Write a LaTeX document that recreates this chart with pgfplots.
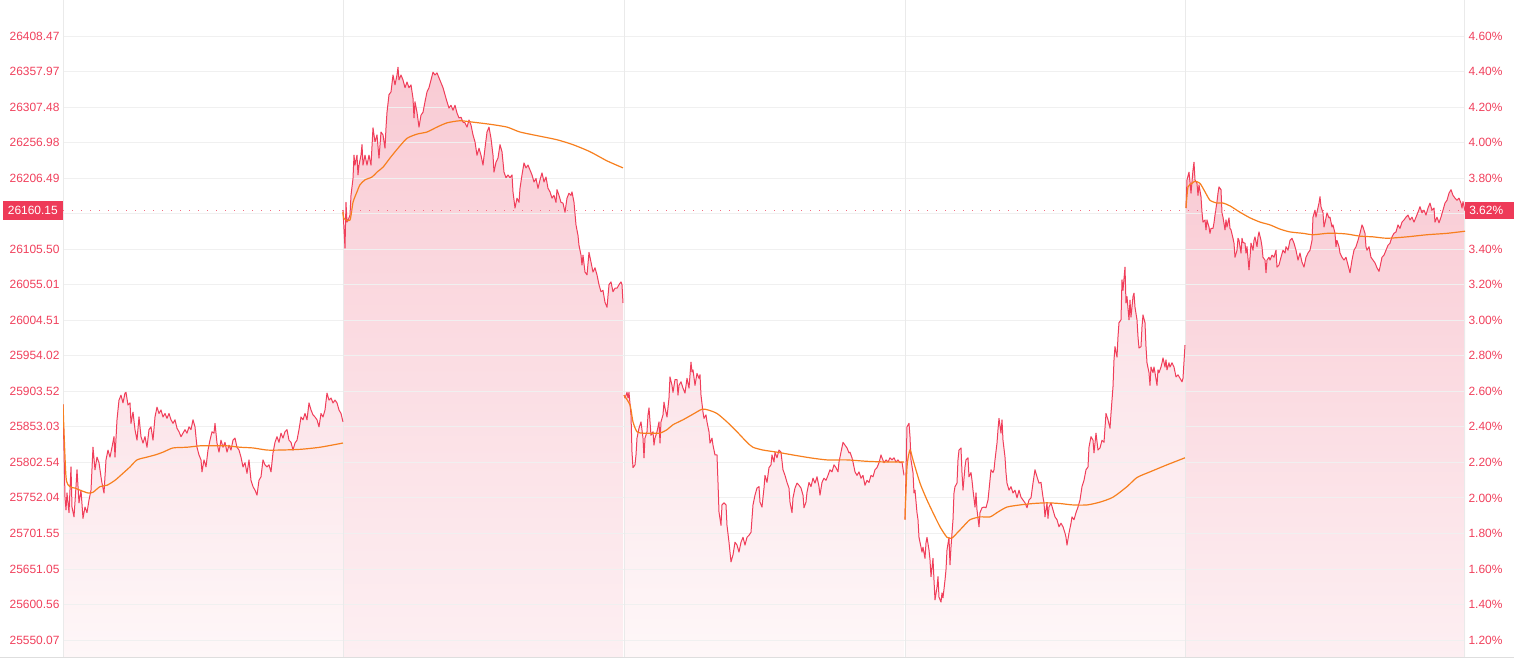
\documentclass[border=0pt]{standalone}
\usepackage{fontspec}
\setmainfont{Liberation Sans}
\usepackage{pgfplots}
\usepackage{pgfplotstable}
\pgfplotsset{compat=1.18}
\definecolor{lred}{RGB}{240,62,90}
\definecolor{lbl}{RGB}{240,64,92}
\definecolor{ma}{RGB}{247,127,30}
\definecolor{gridc}{RGB}{240,240,240}
\definecolor{vgrid}{RGB}{234,234,234}
\definecolor{boxred}{RGB}{238,58,88}
\definecolor{dotc}{RGB}{242,110,130}
\definecolor{botline}{RGB}{222,222,222}
\definecolor{sAtop}{HTML}{FCE4E9}\definecolor{sAbot}{HTML}{FEF7F8}
\definecolor{sBtop}{HTML}{F9CBD4}\definecolor{sBbot}{HTML}{FDEFF2}
\definecolor{sDtop}{HTML}{FBE0E6}

\pgfplotstableread[row sep=\\]{
x y\\
63 25885\\ 65 25753\\ 66 25735\\ 67 25759\\ 69 25731\\ 71 25796\\ 72 25739\\ 74 25725\\ 76 25768\\ 77 25792\\ 79 25745\\ 81 25763\\ 83 25723\\ 85 25739\\ 87 25731\\ 89 25749\\ 91 25763\\ 93 25824\\ 95 25792\\ 97 25810\\ 99 25802\\ 101 25782\\ 102 25773\\ 104 25759\\ 106 25806\\ 108 25820\\ 110 25810\\ 112 25824\\ 114 25839\\ 115 25810\\ 117 25863\\ 119 25891\\ 121 25898\\ 123 25887\\ 125 25901\\ 126 25902\\ 128 25884\\ 130 25887\\ 131 25858\\ 133 25874\\ 135 25849\\ 137 25834\\ 139 25867\\ 141 25839\\ 143 25830\\ 145 25839\\ 147 25824\\ 149 25849\\ 151 25853\\ 153 25834\\ 155 25867\\ 157 25881\\ 159 25872\\ 161 25877\\ 163 25867\\ 165 25872\\ 167 25865\\ 169 25872\\ 171 25863\\ 173 25858\\ 175 25863\\ 177 25851\\ 179 25846\\ 181 25839\\ 183 25844\\ 185 25849\\ 187 25844\\ 189 25853\\ 191 25849\\ 193 25863\\ 195 25853\\ 197 25824\\ 199 25813\\ 201 25806\\ 202 25789\\ 204 25806\\ 206 25796\\ 208 25820\\ 210 25834\\ 212 25846\\ 214 25844\\ 215 25858\\ 217 25830\\ 219 25817\\ 221 25834\\ 223 25824\\ 225 25831\\ 227 25817\\ 229 25827\\ 231 25820\\ 233 25834\\ 235 25837\\ 237 25824\\ 239 25820\\ 241 25810\\ 243 25796\\ 245 25802\\ 247 25787\\ 249 25806\\ 251 25777\\ 253 25768\\ 255 25763\\ 257 25756\\ 259 25777\\ 261 25782\\ 263 25806\\ 265 25799\\ 267 25796\\ 269 25799\\ 271 25789\\ 273 25816\\ 275 25831\\ 277 25839\\ 279 25831\\ 281 25844\\ 283 25837\\ 285 25846\\ 287 25849\\ 289 25834\\ 291 25831\\ 293 25820\\ 295 25830\\ 297 25834\\ 299 25849\\ 301 25867\\ 303 25863\\ 305 25872\\ 307 25863\\ 309 25887\\ 311 25877\\ 313 25870\\ 315 25867\\ 317 25863\\ 319 25853\\ 321 25872\\ 323 25867\\ 325 25877\\ 327 25901\\ 329 25891\\ 331 25894\\ 333 25887\\ 335 25891\\ 337 25887\\ 339 25877\\ 341 25872\\ 343 25860\\
}\sone

\pgfplotstableread[row sep=\\]{
x y\\
343 26161\\ 345 26107\\ 346 26172\\ 347 26144\\ 349 26150\\ 350 26154\\ 351 26182\\ 353 26206\\ 354 26239\\ 355 26225\\ 357 26239\\ 358 26211\\ 359 26225\\ 361 26239\\ 362 26254\\ 363 26225\\ 365 26239\\ 367 26225\\ 369 26239\\ 371 26225\\ 373 26278\\ 375 26258\\ 377 26268\\ 379 26235\\ 381 26272\\ 383 26268\\ 385 26249\\ 386 26278\\ 387 26300\\ 389 26325\\ 391 26329\\ 393 26353\\ 395 26339\\ 397 26353\\ 398 26364\\ 399 26346\\ 401 26353\\ 403 26346\\ 405 26335\\ 407 26343\\ 409 26335\\ 411 26339\\ 413 26320\\ 414 26292\\ 415 26315\\ 417 26300\\ 419 26279\\ 421 26296\\ 423 26300\\ 425 26315\\ 427 26329\\ 429 26335\\ 431 26346\\ 433 26357\\ 435 26353\\ 437 26356\\ 439 26349\\ 441 26342\\ 443 26335\\ 445 26325\\ 447 26315\\ 449 26306\\ 451 26310\\ 453 26303\\ 455 26310\\ 457 26299\\ 459 26292\\ 461 26293\\ 463 26286\\ 465 26285\\ 467 26279\\ 469 26289\\ 471 26282\\ 473 26268\\ 475 26258\\ 477 26239\\ 479 26249\\ 481 26239\\ 483 26225\\ 485 26249\\ 487 26272\\ 489 26279\\ 491 26263\\ 493 26239\\ 494 26215\\ 496 26229\\ 498 26235\\ 500 26254\\ 502 26244\\ 504 26215\\ 506 26207\\ 508 26211\\ 510 26207\\ 512 26211\\ 513 26187\\ 515 26164\\ 517 26178\\ 519 26172\\ 520 26192\\ 522 26211\\ 524 26228\\ 526 26221\\ 528 26225\\ 530 26218\\ 532 26211\\ 534 26201\\ 536 26206\\ 538 26192\\ 540 26204\\ 542 26214\\ 544 26201\\ 546 26208\\ 548 26192\\ 550 26187\\ 552 26178\\ 554 26182\\ 556 26172\\ 557 26190\\ 559 26182\\ 561 26172\\ 563 26171\\ 565 26158\\ 567 26178\\ 569 26185\\ 571 26182\\ 572 26187\\ 574 26172\\ 576 26140\\ 578 26125\\ 579 26111\\ 581 26097\\ 582 26083\\ 583 26097\\ 585 26073\\ 587 26069\\ 589 26101\\ 591 26087\\ 593 26073\\ 595 26079\\ 597 26069\\ 599 26055\\ 601 26045\\ 603 26047\\ 605 26030\\ 607 26023\\ 609 26055\\ 611 26059\\ 613 26045\\ 615 26050\\ 617 26050\\ 619 26055\\ 621 26059\\ 622 26055\\ 623 26029\\
}\stwo

\pgfplotstableread[row sep=\\]{
x y\\
624 25898\\ 625 25894\\ 627 25902\\ 628 25894\\ 629 25902\\ 631 25870\\ 632 25817\\ 633 25795\\ 635 25799\\ 636 25813\\ 637 25837\\ 639 25851\\ 641 25860\\ 643 25837\\ 644 25809\\ 645 25837\\ 647 25846\\ 648 25870\\ 649 25880\\ 651 25841\\ 653 25846\\ 654 25827\\ 655 25837\\ 657 25846\\ 659 25860\\ 660 25830\\ 661 25860\\ 663 25870\\ 664 25888\\ 665 25880\\ 667 25867\\ 669 25894\\ 670 25924\\ 672 25912\\ 673 25902\\ 675 25920\\ 677 25920\\ 678 25898\\ 679 25912\\ 681 25917\\ 683 25908\\ 685 25901\\ 687 25922\\ 689 25908\\ 691 25945\\ 692 25931\\ 693 25934\\ 695 25912\\ 697 25929\\ 699 25922\\ 700 25927\\ 701 25898\\ 703 25874\\ 704 25865\\ 706 25870\\ 707 25860\\ 709 25846\\ 710 25830\\ 712 25837\\ 713 25827\\ 715 25813\\ 717 25813\\ 718 25774\\ 719 25732\\ 721 25713\\ 722 25742\\ 724 25745\\ 726 25742\\ 727 25713\\ 729 25689\\ 731 25661\\ 733 25671\\ 735 25689\\ 737 25685\\ 739 25675\\ 741 25689\\ 743 25696\\ 745 25685\\ 747 25696\\ 749 25699\\ 751 25703\\ 753 25742\\ 755 25756\\ 757 25766\\ 759 25768\\ 760 25746\\ 762 25739\\ 764 25766\\ 765 25784\\ 767 25774\\ 769 25795\\ 771 25799\\ 772 25813\\ 774 25803\\ 775 25817\\ 777 25809\\ 779 25820\\ 781 25817\\ 783 25792\\ 785 25784\\ 787 25774\\ 789 25766\\ 790 25746\\ 792 25731\\ 793 25752\\ 795 25766\\ 797 25773\\ 799 25770\\ 801 25766\\ 803 25756\\ 804 25738\\ 806 25746\\ 807 25760\\ 809 25774\\ 811 25768\\ 813 25780\\ 815 25773\\ 817 25782\\ 819 25768\\ 820 25756\\ 822 25774\\ 824 25780\\ 826 25777\\ 828 25784\\ 830 25792\\ 832 25789\\ 834 25799\\ 836 25795\\ 838 25789\\ 839 25803\\ 841 25817\\ 843 25831\\ 845 25827\\ 847 25823\\ 849 25816\\ 850 25817\\ 852 25809\\ 853 25803\\ 855 25789\\ 857 25784\\ 859 25789\\ 861 25780\\ 863 25784\\ 865 25770\\ 867 25777\\ 869 25774\\ 871 25784\\ 873 25782\\ 875 25792\\ 877 25795\\ 879 25802\\ 881 25813\\ 882 25809\\ 884 25802\\ 886 25806\\ 888 25803\\ 890 25809\\ 892 25806\\ 894 25809\\ 896 25803\\ 898 25806\\ 900 25802\\ 902 25803\\ 904 25784\\
}\sthree

\pgfplotstableread[row sep=\\]{
x y\\
905 25721\\ 906 25788\\ 907 25853\\ 909 25858\\ 910 25839\\ 911 25806\\ 913 25788\\ 914 25759\\ 915 25763\\ 917 25731\\ 918 25721\\ 919 25696\\ 921 25682\\ 922 25675\\ 923 25682\\ 925 25666\\ 926 25688\\ 927 25696\\ 929 25678\\ 930 25664\\ 931 25640\\ 933 25666\\ 934 25635\\ 935 25607\\ 937 25625\\ 938 25640\\ 939 25611\\ 941 25604\\ 942 25617\\ 943 25610\\ 945 25635\\ 946 25650\\ 947 25678\\ 949 25696\\ 950 25657\\ 951 25682\\ 953 25721\\ 954 25759\\ 955 25768\\ 957 25773\\ 958 25806\\ 959 25820\\ 961 25823\\ 962 25788\\ 963 25763\\ 965 25796\\ 966 25806\\ 968 25809\\ 969 25782\\ 971 25788\\ 972 25777\\ 973 25763\\ 975 25739\\ 976 25759\\ 977 25735\\ 979 25711\\ 980 25731\\ 982 25738\\ 984 25739\\ 986 25738\\ 988 25749\\ 989 25763\\ 991 25792\\ 993 25788\\ 994 25792\\ 995 25806\\ 997 25830\\ 998 25849\\ 999 25865\\ 1001 25844\\ 1002 25863\\ 1003 25834\\ 1005 25810\\ 1006 25788\\ 1007 25773\\ 1009 25763\\ 1011 25768\\ 1013 25759\\ 1015 25763\\ 1017 25752\\ 1019 25763\\ 1021 25753\\ 1023 25749\\ 1025 25745\\ 1027 25738\\ 1029 25749\\ 1031 25752\\ 1033 25773\\ 1035 25792\\ 1037 25782\\ 1039 25773\\ 1041 25774\\ 1043 25753\\ 1044 25745\\ 1045 25725\\ 1047 25745\\ 1048 25723\\ 1049 25739\\ 1051 25745\\ 1053 25735\\ 1055 25725\\ 1057 25721\\ 1059 25711\\ 1061 25716\\ 1063 25711\\ 1065 25702\\ 1066 25696\\ 1067 25685\\ 1069 25702\\ 1071 25716\\ 1072 25725\\ 1074 25721\\ 1076 25731\\ 1078 25739\\ 1080 25749\\ 1082 25768\\ 1084 25777\\ 1086 25792\\ 1088 25796\\ 1089 25824\\ 1091 25839\\ 1093 25834\\ 1094 25816\\ 1096 25844\\ 1098 25820\\ 1100 25823\\ 1102 25834\\ 1104 25831\\ 1106 25872\\ 1108 25863\\ 1110 25851\\ 1111 25872\\ 1113 25910\\ 1114 25948\\ 1115 25967\\ 1117 25952\\ 1118 25981\\ 1119 26001\\ 1121 26005\\ 1122 26062\\ 1123 26047\\ 1125 26080\\ 1126 26029\\ 1127 26038\\ 1129 26005\\ 1130 26033\\ 1131 26009\\ 1133 26038\\ 1134 26043\\ 1135 26023\\ 1137 26005\\ 1138 25981\\ 1139 25965\\ 1141 25967\\ 1142 25995\\ 1143 26012\\ 1145 26001\\ 1146 25967\\ 1147 25944\\ 1149 25930\\ 1150 25912\\ 1151 25938\\ 1153 25930\\ 1154 25938\\ 1155 25930\\ 1157 25912\\ 1158 25934\\ 1159 25930\\ 1161 25938\\ 1162 25944\\ 1163 25951\\ 1165 25938\\ 1166 25948\\ 1167 25934\\ 1169 25944\\ 1170 25938\\ 1172 25944\\ 1174 25938\\ 1176 25924\\ 1178 25927\\ 1180 25922\\ 1182 25917\\ 1183 25922\\ 1185 25969\\
}\sfour

\pgfplotstableread[row sep=\\]{
x y\\
1186 26164\\ 1187 26204\\ 1189 26215\\ 1190 26201\\ 1191 26185\\ 1193 26218\\ 1194 26229\\ 1195 26204\\ 1197 26199\\ 1198 26182\\ 1199 26197\\ 1201 26180\\ 1202 26158\\ 1203 26144\\ 1205 26147\\ 1206 26133\\ 1207 26147\\ 1209 26137\\ 1210 26128\\ 1211 26135\\ 1213 26135\\ 1214 26143\\ 1215 26154\\ 1217 26173\\ 1218 26185\\ 1219 26194\\ 1221 26190\\ 1222 26157\\ 1223 26151\\ 1225 26133\\ 1226 26147\\ 1227 26137\\ 1229 26150\\ 1230 26135\\ 1231 26133\\ 1233 26121\\ 1234 26114\\ 1235 26094\\ 1237 26104\\ 1238 26121\\ 1239 26118\\ 1241 26100\\ 1242 26121\\ 1243 26115\\ 1245 26114\\ 1246 26100\\ 1247 26109\\ 1249 26076\\ 1250 26094\\ 1251 26114\\ 1253 26104\\ 1254 26118\\ 1255 26123\\ 1257 26109\\ 1258 26123\\ 1259 26130\\ 1261 26118\\ 1262 26109\\ 1263 26094\\ 1265 26090\\ 1266 26072\\ 1267 26090\\ 1269 26094\\ 1270 26090\\ 1272 26097\\ 1274 26094\\ 1276 26104\\ 1277 26080\\ 1279 26083\\ 1281 26094\\ 1283 26104\\ 1285 26100\\ 1286 26109\\ 1288 26104\\ 1290 26118\\ 1292 26121\\ 1294 26114\\ 1296 26104\\ 1298 26090\\ 1300 26100\\ 1302 26087\\ 1304 26080\\ 1306 26094\\ 1308 26100\\ 1310 26104\\ 1312 26118\\ 1313 26151\\ 1315 26161\\ 1316 26151\\ 1317 26158\\ 1319 26171\\ 1320 26180\\ 1321 26166\\ 1323 26157\\ 1324 26137\\ 1325 26143\\ 1327 26157\\ 1329 26150\\ 1330 26151\\ 1332 26137\\ 1333 26140\\ 1335 26128\\ 1336 26109\\ 1337 26118\\ 1339 26109\\ 1340 26100\\ 1342 26094\\ 1344 26090\\ 1346 26094\\ 1348 26083\\ 1350 26072\\ 1352 26090\\ 1354 26104\\ 1356 26109\\ 1358 26118\\ 1360 26128\\ 1362 26140\\ 1363 26137\\ 1365 26128\\ 1366 26109\\ 1367 26104\\ 1369 26109\\ 1371 26094\\ 1373 26090\\ 1375 26086\\ 1377 26079\\ 1379 26074\\ 1380 26080\\ 1382 26094\\ 1384 26097\\ 1386 26104\\ 1388 26111\\ 1390 26114\\ 1392 26123\\ 1394 26128\\ 1396 26130\\ 1398 26140\\ 1400 26135\\ 1402 26144\\ 1404 26147\\ 1406 26151\\ 1408 26154\\ 1410 26147\\ 1412 26151\\ 1414 26144\\ 1416 26151\\ 1418 26158\\ 1420 26166\\ 1422 26157\\ 1424 26161\\ 1426 26154\\ 1428 26164\\ 1430 26171\\ 1432 26161\\ 1434 26164\\ 1435 26144\\ 1437 26151\\ 1439 26143\\ 1441 26151\\ 1443 26161\\ 1445 26171\\ 1447 26175\\ 1449 26185\\ 1451 26190\\ 1453 26182\\ 1455 26178\\ 1457 26175\\ 1459 26178\\ 1461 26171\\ 1462 26164\\ 1463 26173\\ 1465 26160.15\\
}\sfive

\pgfplotstableread[row sep=\\]{
x y\\
63 25885\\ 66 25782\\ 70 25768\\ 75 25766\\ 80 25763\\ 88 25759\\ 93 25760\\ 100 25768\\ 107 25770\\ 115 25777\\ 123 25787\\ 130 25796\\ 137 25806\\ 147 25810\\ 155 25813\\ 163 25817\\ 173 25823\\ 187 25824\\ 200 25826\\ 213 25826\\ 227 25826\\ 240 25824\\ 253 25823\\ 267 25820\\ 280 25820\\ 300 25821\\ 320 25824\\ 343 25830\\
}\mone

\pgfplotstableread[row sep=\\]{
x y\\
343 26158\\ 344 26149\\ 350 26147\\ 353 26172\\ 357 26187\\ 360 26197\\ 365 26204\\ 372 26208\\ 377 26215\\ 383 26222\\ 390 26235\\ 398 26249\\ 407 26263\\ 417 26269\\ 427 26272\\ 437 26279\\ 447 26285\\ 460 26288\\ 473 26286\\ 490 26283\\ 507 26279\\ 520 26272\\ 540 26266\\ 557 26261\\ 573 26254\\ 590 26244\\ 607 26231\\ 623 26221\\
}\mtwo

\pgfplotstableread[row sep=\\]{
x y\\
624 25898\\ 630 25884\\ 633 25860\\ 637 25846\\ 643 25844\\ 653 25844\\ 660 25844\\ 667 25849\\ 673 25856\\ 683 25863\\ 693 25871\\ 702 25878\\ 708 25877\\ 717 25872\\ 727 25860\\ 737 25846\\ 747 25831\\ 753 25824\\ 763 25820\\ 777 25817\\ 793 25813\\ 810 25809\\ 827 25806\\ 847 25806\\ 867 25804\\ 887 25803\\ 904 25803\\
}\mthree

\pgfplotstableread[row sep=\\]{
x y\\
905 25721\\ 907 25796\\ 910 25820\\ 913 25806\\ 920 25773\\ 927 25749\\ 933 25731\\ 940 25711\\ 947 25696\\ 952 25695\\ 957 25702\\ 963 25711\\ 970 25721\\ 980 25725\\ 990 25725\\ 998 25732\\ 1007 25739\\ 1020 25742\\ 1033 25744\\ 1047 25745\\ 1060 25744\\ 1073 25742\\ 1087 25742\\ 1100 25746\\ 1113 25753\\ 1127 25768\\ 1137 25781\\ 1150 25789\\ 1167 25799\\ 1185 25809\\
}\mfour

\pgfplotstableread[row sep=\\]{
x y\\
1186 26164\\ 1188 26194\\ 1192 26199\\ 1195 26202\\ 1200 26199\\ 1205 26187\\ 1210 26175\\ 1217 26171\\ 1223 26171\\ 1230 26167\\ 1240 26158\\ 1250 26150\\ 1260 26144\\ 1270 26140\\ 1280 26134\\ 1290 26130\\ 1303 26128\\ 1313 26126\\ 1327 26128\\ 1337 26128\\ 1347 26127\\ 1360 26124\\ 1373 26123\\ 1387 26121\\ 1407 26123\\ 1427 26126\\ 1447 26128\\ 1465 26131\\
}\mfive

\begin{document}
\begin{tikzpicture}
\pgfplotsset{
  common/.style={
    at={(63bp,1bp)}, anchor=south west,
    scale only axis, width=1402bp, height=657bp,
    axis line style={draw=none},
    major tick length=0pt,
    scaled y ticks=false, scaled x ticks=false,
    yticklabel style={font=\fontsize{12}{14}\selectfont, text=lbl},
  }
}
\begin{axis}[common,
  set layers,
  xmin=63, xmax=1465, ymin=25525.9, ymax=26459.6,
  xtick=\empty,
  ytick={25550.07,25600.56,25651.05,25701.55,25752.04,25802.54,25853.03,25903.52,25954.02,26004.51,26055.01,26105.50,26155.99,26206.49,26256.98,26307.48,26357.97,26408.47},
  yticklabels={25550.07,25600.56,25651.05,25701.55,25752.04,25802.54,25853.03,25903.52,25954.02,26004.51,26055.01,26105.50,{},26206.49,26256.98,26307.48,26357.97,26408.47},
  ymajorgrids,
  y grid style={gridc, line width=0.8bp},
]
\addplot[on layer=axis background, draw=none, top color=sAtop, bottom color=sAbot] table {\sone} -- (axis cs:343,25525.9) -- (axis cs:63,25525.9) -- cycle;
\addplot[on layer=axis background, draw=none, top color=sBtop, bottom color=sBbot] table {\stwo} -- (axis cs:623,25525.9) -- (axis cs:343,25525.9) -- cycle;
\addplot[on layer=axis background, draw=none, top color=sAtop, bottom color=sAbot] table {\sthree} -- (axis cs:904,25525.9) -- (axis cs:624,25525.9) -- cycle;
\addplot[on layer=axis background, draw=none, top color=sDtop, bottom color=sAbot] table {\sfour} -- (axis cs:1185,25525.9) -- (axis cs:905,25525.9) -- cycle;
\addplot[on layer=axis background, draw=none, top color=sBtop, bottom color=sBbot] table {\sfive} -- (axis cs:1465,25525.9) -- (axis cs:1186,25525.9) -- cycle;

\addplot[on layer=axis grid, vgrid, line width=0.8bp] coordinates {(63.4,25525.9) (63.4,26459.6)};
\addplot[on layer=axis grid, vgrid, line width=0.8bp] coordinates {(343,25525.9) (343,26459.6)};
\addplot[on layer=axis grid, vgrid, line width=0.8bp] coordinates {(624,25525.9) (624,26459.6)};
\addplot[on layer=axis grid, vgrid, line width=0.8bp] coordinates {(905,25525.9) (905,26459.6)};
\addplot[on layer=axis grid, vgrid, line width=0.8bp] coordinates {(1185,25525.9) (1185,26459.6)};
\addplot[on layer=axis grid, vgrid, line width=0.8bp] coordinates {(1464.6,25525.9) (1464.6,26459.6)};

\addplot[lred, line width=1bp, line join=round] table {\sone};
\addplot[lred, line width=1bp, line join=round] table {\stwo};
\addplot[lred, line width=1bp, line join=round] table {\sthree};
\addplot[lred, line width=1bp, line join=round] table {\sfour};
\addplot[lred, line width=1bp, line join=round] table {\sfive};

\addplot[ma, line width=1.2bp, smooth, tension=0.4] table {\mone};
\addplot[ma, line width=1.2bp, smooth, tension=0.4] table {\mtwo};
\addplot[ma, line width=1.2bp, smooth, tension=0.4] table {\mthree};
\addplot[ma, line width=1.2bp, smooth, tension=0.4] table {\mfour};
\addplot[ma, line width=1.2bp, smooth, tension=0.4] table {\mfive};

\addplot[dotc, line width=1.1bp, dash pattern=on 1.1bp off 7.9bp] coordinates {(63,26160.15) (1465,26160.15)};
\coordinate (bl) at (axis cs:63,26160.15);
\coordinate (br) at (axis cs:1465,26160.15);
\end{axis}
\begin{axis}[common,
  xmin=0, xmax=1, ymin=1.1044, ymax=4.8026,
  xtick=\empty,
  ytick={1.2,1.4,1.6,1.8,2.0,2.2,2.4,2.6,2.8,3.0,3.2,3.4,3.6,3.8,4.0,4.2,4.4,4.6},
  yticklabels={1.20\%,1.40\%,1.60\%,1.80\%,2.00\%,2.20\%,2.40\%,2.60\%,2.80\%,3.00\%,3.20\%,3.40\%,{},3.80\%,4.00\%,4.20\%,4.40\%,4.60\%},
  yticklabel pos=right,
]
\end{axis}
\node[fill=boxred, text=white, anchor=east, minimum width=60bp, minimum height=19bp, inner sep=0pt, font=\fontsize{12}{14}\selectfont] at (bl) {26160.15};
\node[fill=boxred, text=white, anchor=west, minimum width=49bp, minimum height=17bp, inner sep=0pt, font=\fontsize{12}{14}\selectfont] at (br) {\hspace*{1bp}3.62\%\hspace*{8bp}};
\draw[botline, line width=1bp] (0,1bp) -- (1514bp,1bp);
\pgfresetboundingbox
\path (0,0) rectangle (1514bp,658bp);
\end{tikzpicture}
\end{document}
